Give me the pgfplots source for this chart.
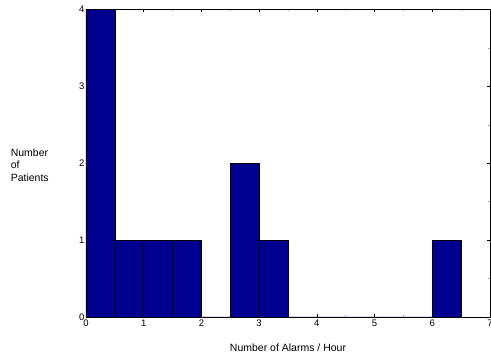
\documentclass[border=0pt]{standalone}
\usepackage{pgfplots}
\pgfplotsset{compat=1.18}
\usepackage{fontspec}
\setmainfont{Liberation Sans}
\definecolor{barblue}{rgb}{0,0,0.5625}
\begin{document}
\begin{tikzpicture}[x=1pt,y=1pt]
\useasboundingbox (0,0) rectangle (491,358);
\begin{axis}[
  at={(86pt,41pt)}, anchor=south west,
  scale only axis, width=404pt, height=307.5pt,
  xmin=0, xmax=7, ymin=0, ymax=4,
  xtick={0,1,...,7}, ytick={0,1,2,3,4},
  minor tick num=1,
  tick align=inside,
  major tick length=3pt, minor tick length=2pt,
  tick style={black, line width=0.5pt},
  minor tick style={gray!70},
  axis line style={black, line width=0.6pt},
  tick label style={font=\fontsize{9.5}{11}\selectfont},
  /pgf/number format/assume math mode=true,
  xticklabel style={yshift=1pt},
  yticklabel style={xshift=2pt},
  xlabel={Number of Alarms / Hour},
  ylabel={Number\\of\\Patients},
  label style={font=\fontsize{10.5}{12.5}\selectfont},
  xlabel style={at={(axis description cs:0.5,-0.1)}, anchor=center},
  ylabel style={at={(axis description cs:-0.195,0.495)}, rotate=-90, anchor=west, align=left},
]
\addplot[ybar interval, fill=barblue, draw=black, line width=0.6pt] coordinates {
  (0,4) (0.5,1) (1,1) (1.5,1) (2,0) (2.5,2) (3,1) (3.5,0) (4,0) (4.5,0) (5,0) (5.5,0) (6,1) (6.5,1)
};
\end{axis}
\end{tikzpicture}
\end{document}
